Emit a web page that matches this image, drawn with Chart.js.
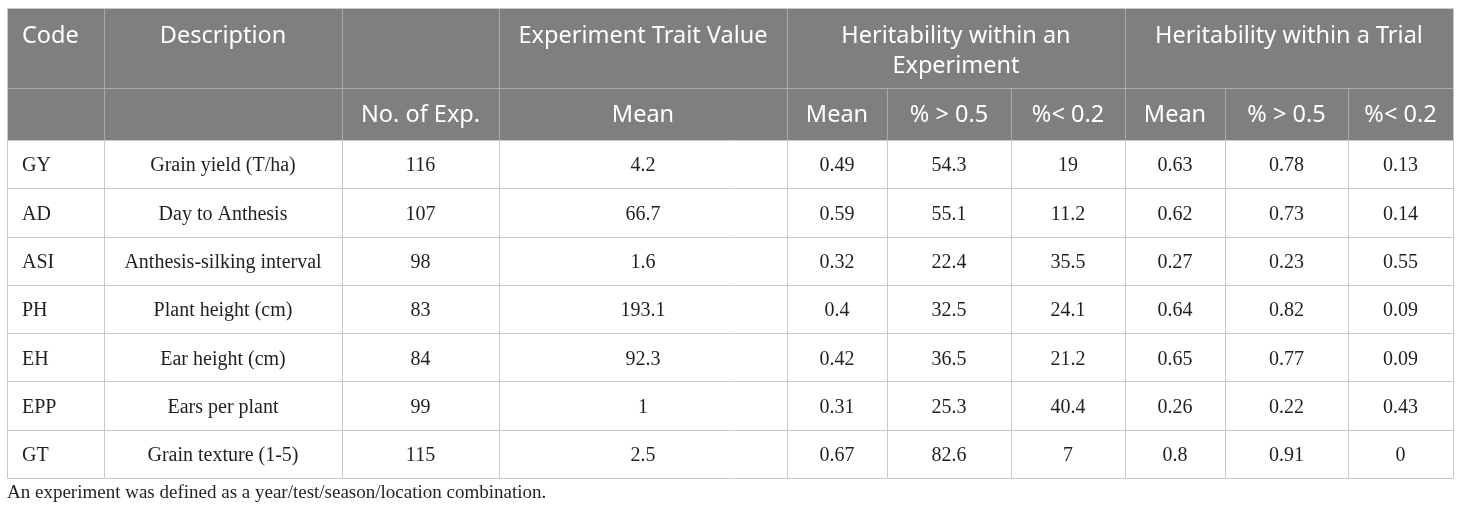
<!DOCTYPE html>
<html>
<head>
<meta charset="utf-8">
<script src="https://cdn.jsdelivr.net/npm/chart.js@4"></script>
<style>
  html,body{margin:0;padding:0;background:#fff;}
  #wrap{width:1460px;height:516px;position:relative;}
</style>
</head>
<body>
<div id="wrap"><canvas id="tbl"></canvas></div>
<script>
// ====== data ======
const codes        = ["GY","AD","ASI","PH","EH","EPP","GT"];
const descriptions = ["Grain yield (T/ha)","Day to Anthesis","Anthesis-silking interval","Plant height (cm)","Ear height (cm)","Ears per plant","Grain texture (1-5)"];
const numExp       = [116, 107, 98, 83, 84, 99, 115];
const traitMean    = [4.2, 66.7, 1.6, 193.1, 92.3, 1, 2.5];
const expMean      = [0.49, 0.59, 0.32, 0.4, 0.42, 0.31, 0.67];
const expAbove     = [54.3, 55.1, 22.4, 32.5, 36.5, 25.3, 82.6];
const expBelow     = [19, 11.2, 35.5, 24.1, 21.2, 40.4, 7];
const trialMean    = [0.63, 0.62, 0.27, 0.64, 0.65, 0.26, 0.8];
const trialAbove   = [0.78, 0.73, 0.23, 0.82, 0.77, 0.22, 0.91];
const trialBelow   = [0.13, 0.14, 0.55, 0.09, 0.09, 0.43, 0];

// header texts
const groupHeaders = [
  {text:["Code"], from:0, to:0, align:'left'},
  {text:["Description"], from:1, to:1},
  {text:[""], from:2, to:2},
  {text:["Experiment Trait Value"], from:3, to:3},
  {text:["Heritability within an","Experiment"], from:4, to:6},
  {text:["Heritability within a Trial"], from:7, to:9}
];
const subHeaders = ["", "", "No. of Exp.", "Mean", "Mean", "% > 0.5", "%< 0.2", "Mean", "% > 0.5", "%< 0.2"];
const footnote = "An experiment was defined as a year/test/season/location combination.";

// ====== layout (table units = px) ======
const colEdges = [0, 97, 335, 492, 780, 880, 1004, 1118, 1218, 1341, 1446];
const head1H = 80, head2H = 52;
const bodyTop = head1H + head2H;
const tableH = 470;
const rowH = (tableH - bodyTop) / codes.length;

const columns = [codes, descriptions, numExp, traitMean, expMean, expAbove, expBelow, trialMean, trialAbove, trialBelow];
const colX = j => j === 0 ? colEdges[0] + 15 : (colEdges[j] + colEdges[j+1]) / 2;
const rowY = i => bodyTop + rowH * (i + 0.5);

const headFont = '23.5px "Noto Sans"';
const bodyFont = '20px "Liberation Serif"';
const headBg = '#7f7f7f', headLine = '#a9a9a9', gridLine = '#c9c9c9', ink = '#231f20';

// ====== table plugin: backgrounds, rules and cell text ======
const tablePlugin = {
  id: 'table',
  beforeDatasetsDraw(chart) {
    const {ctx, scales:{x, y}} = chart;
    const X = v => x.getPixelForValue(v), Y = v => y.getPixelForValue(v);
    ctx.save();
    // header background
    ctx.fillStyle = headBg;
    ctx.fillRect(X(0), Y(0), X(colEdges[colEdges.length-1]) - X(0), Y(bodyTop) - Y(0));
    // header rules
    ctx.strokeStyle = headLine; ctx.lineWidth = 1;
    const line = (x1,y1,x2,y2) => { ctx.beginPath(); ctx.moveTo(Math.round(x1)+0.5, Math.round(y1)+0.5); ctx.lineTo(Math.round(x2)+0.5, Math.round(y2)+0.5); ctx.stroke(); };
    line(X(0), Y(head1H), X(colEdges[10]), Y(head1H));
    groupHeaders.forEach(g => { if (g.from > 0) line(X(colEdges[g.from]), Y(0), X(colEdges[g.from]), Y(head1H)); });
    for (let j = 1; j < colEdges.length - 1; j++) line(X(colEdges[j]), Y(head1H), X(colEdges[j]), Y(bodyTop));
    // body rules
    ctx.strokeStyle = gridLine;
    line(X(0), Y(0), X(colEdges[10]), Y(0));
    for (let i = 0; i <= codes.length; i++) line(X(0), Y(bodyTop + i*rowH), X(colEdges[10]), Y(bodyTop + i*rowH));
    colEdges.forEach(e => line(X(e), Y(bodyTop), X(e), Y(tableH)));
    line(X(0), Y(0), X(0), Y(bodyTop));
    line(X(colEdges[10]), Y(0), X(colEdges[10]), Y(bodyTop));
    // header text
    ctx.fillStyle = '#fff'; ctx.font = headFont; ctx.textBaseline = 'middle';
    groupHeaders.forEach(g => {
      g.text.forEach((t, k) => {
        const yy = Y(28 + k*30);
        if (g.align === 'left') { ctx.textAlign = 'left'; ctx.fillText(t, X(colEdges[g.from] + 15), yy); }
        else { ctx.textAlign = 'center'; ctx.fillText(t, X((colEdges[g.from] + colEdges[g.to+1]) / 2), yy); }
      });
    });
    ctx.textAlign = 'center';
    subHeaders.forEach((t, j) => ctx.fillText(t, X((colEdges[j] + colEdges[j+1]) / 2), Y(head1H + head2H/2 + 1)));
    ctx.restore();
  },
  afterDatasetsDraw(chart) {
    const {ctx} = chart;
    ctx.save();
    ctx.fillStyle = ink; ctx.font = bodyFont; ctx.textBaseline = 'middle';
    chart.data.datasets.forEach((ds, k) => {
      ctx.textAlign = k === 0 ? 'left' : 'center';
      chart.getDatasetMeta(k).data.forEach((pt, i) => ctx.fillText(String(ds.data[i].v), pt.x, pt.y + 2));
    });
    // footnote
    ctx.textAlign = 'left';
    ctx.font = '19px "Liberation Serif"';
    ctx.fillText(footnote, chart.chartArea.left, chart.chartArea.bottom + 15);
    ctx.restore();
  }
};

new Chart(document.getElementById('tbl'), {
  type: 'scatter',
  data: {
    datasets: columns.map((col, j) => ({
      data: col.map((v, i) => ({x: colX(j), y: rowY(i), v})),
      pointRadius: 0,
      pointHoverRadius: 0
    }))
  },
  options: {
    responsive: true,
    maintainAspectRatio: false,
    animation: false,
    events: [],
    layout: { padding: { left: 7, top: 8, right: 7, bottom: 38 } },
    scales: {
      x: { type: 'linear', display: false, min: 0, max: colEdges[colEdges.length-1] },
      y: { type: 'linear', display: false, min: 0, max: tableH, reverse: true }
    },
    plugins: { legend: { display: false }, tooltip: { enabled: false } }
  },
  plugins: [tablePlugin]
});
</script>
</body>
</html>
